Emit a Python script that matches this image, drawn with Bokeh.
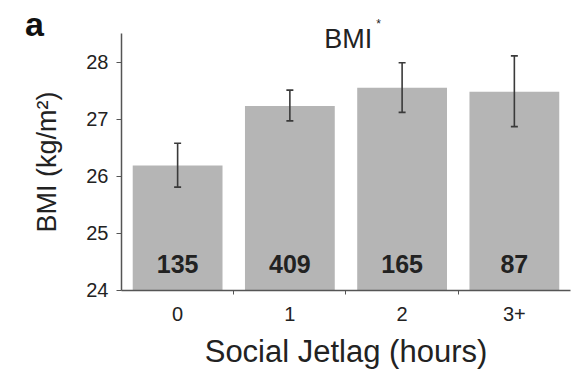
import numpy as np
from bokeh.plotting import figure
from bokeh.models import ColumnDataSource, Whisker, TeeHead, Label, FixedTicker
from bokeh.core.properties import value
from bokeh.embed import file_html
from bokeh.resources import INLINE

# Data
categories = ["0", "1", "2", "3+"]
bmi_mean = [26.19, 27.23, 27.55, 27.48]
bmi_lower = [25.81, 26.97, 27.12, 26.87]
bmi_upper = [26.58, 27.51, 27.99, 28.11]
counts = ["135", "409", "165", "87"]
y_ticks = [24, 25, 26, 27, 28]
y_min, y_max = 24, 28.5

FONT = "Liberation Sans"
TXT = "#222222"
AX = "#555555"

xs = np.arange(len(categories)) + 0.5
src = ColumnDataSource(dict(x=xs, top=bmi_mean, lower=bmi_lower, upper=bmi_upper,
                            n=counts, cat=categories))

# The frame covers the whole canvas; axes are fixed at x=0 / y=24 and limited by
# bounds, so that no text outside the axes area is clipped.
p = figure(width=572, height=375, output_backend="svg", toolbar_location=None,
           x_range=(-1.078, 4.018), y_range=(22.511, 29.079),
           min_border_left=0, min_border_right=0, min_border_top=0, min_border_bottom=0)
p.outline_line_color = None
p.xgrid.visible = False
p.ygrid.visible = False
p.background_fill_color = "white"
p.border_fill_color = "white"

p.vbar(x="x", top="top", bottom=y_min, width=0.8, source=src,
       fill_color="#b5b5b5", line_color=None)

w = Whisker(base="x", lower="lower", upper="upper", source=src, level="overlay",
            line_color="#3a3a3a", line_width=1.6,
            upper_head=TeeHead(size=7, line_color="#3a3a3a", line_width=1.6),
            lower_head=TeeHead(size=7, line_color="#3a3a3a", line_width=1.6))
p.add_layout(w)

p.text(x="x", y=24.46, text="n", source=src, text_align="center",
       text_baseline="middle", text_font=value(FONT),
       text_font_size="25px", text_font_style="bold", text_color=TXT)

# Axes
xa = p.xaxis[0]
xa.fixed_location = y_min
xa.bounds = (0, len(categories))
xa.ticker = FixedTicker(ticks=list(xs), minor_ticks=list(np.arange(1, len(categories))))
xa.major_label_overrides = {float(v): c for v, c in zip(xs, categories)}
xa.major_tick_out = 0
xa.major_tick_in = 0
xa.minor_tick_out = 4
xa.minor_tick_in = 0
xa.minor_tick_line_color = AX
xa.axis_line_color = AX
xa.axis_line_width = 1.5
xa.major_label_text_font = FONT
xa.major_label_text_font_size = "20px"
xa.major_label_text_color = TXT
xa.major_label_standoff = 13
xa.axis_label = "Social Jetlag (hours)"
xa.axis_label_text_font = FONT
xa.axis_label_text_font_size = "31px"
xa.axis_label_text_font_style = "normal"
xa.axis_label_text_color = TXT
xa.axis_label_standoff = 9

ya = p.yaxis[0]
ya.fixed_location = 0
ya.bounds = (y_min, y_max)
ya.ticker = FixedTicker(ticks=y_ticks, minor_ticks=[])
ya.major_tick_out = 5
ya.major_tick_in = 0
ya.major_tick_line_color = AX
ya.axis_line_color = AX
ya.axis_line_width = 1.5
ya.major_label_text_font = FONT
ya.major_label_text_font_size = "20px"
ya.major_label_text_color = TXT
ya.major_label_standoff = 8
ya.axis_label = "BMI (kg/m²)"
ya.axis_label_text_font = FONT
ya.axis_label_text_font_size = "27px"
ya.axis_label_text_font_style = "normal"
ya.axis_label_text_color = TXT
ya.axis_label_standoff = 21

# Title "BMI*" and panel letter
p.add_layout(Label(x=2.02, y=28.41, text="BMI", text_align="center",
                   text_baseline="middle", text_font=FONT,
                   text_font_size="27px", text_color=TXT))
p.add_layout(Label(x=2.29, y=28.66, text="*", text_align="center",
                   text_baseline="middle", text_font=FONT,
                   text_font_size="12px", text_color=TXT))
p.add_layout(Label(x=-0.86, y=28.67, text="a", text_align="left",
                   text_baseline="middle", text_font=FONT,
                   text_font_size="34px", text_font_style="bold", text_color="#111111"))

open("out.html", "w").write(file_html(p, INLINE))
